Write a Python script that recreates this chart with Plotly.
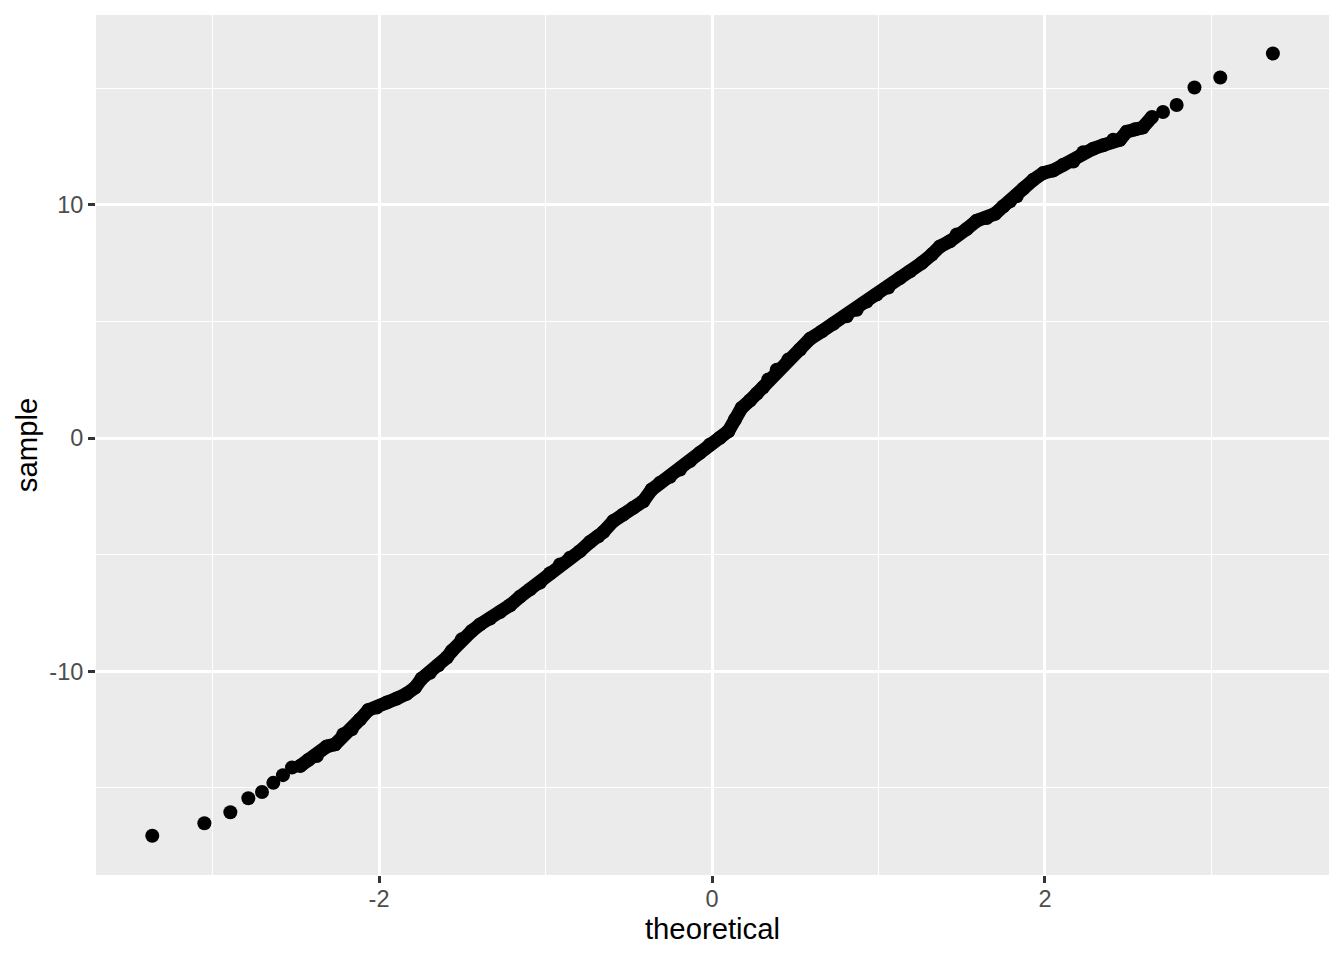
import plotly.graph_objects as go

# Theoretical quantiles (x) and sample quantiles (y)
theoretical = [
    -3.362, -3.049, -2.893, -2.785, -2.703, -2.635, -2.577, -2.523, -2.474, -2.425,
    -2.374, -2.314, -2.264, -2.214, -2.164, -2.114, -2.064, -2.014, -1.954, -1.894,
    -1.834, -1.784, -1.744, -1.694, -1.644, -1.593, -1.563, -1.503, -1.443, -1.393,
    -1.333, -1.273, -1.213, -1.153, -1.093, -1.033, -0.973, -0.913, -0.853, -0.793,
    -0.733, -0.683, -0.653, -0.593, -0.533, -0.473, -0.413, -0.362, -0.312, -0.252,
    -0.192, -0.132, -0.072, -0.012, 0.048, 0.098, 0.138, 0.178, 0.228, 0.270,
    0.306, 0.338, 0.389, 0.458, 0.529, 0.589, 0.659, 0.729, 0.809, 0.869,
    0.929, 0.989, 1.059, 1.129, 1.189, 1.259, 1.320, 1.369, 1.429, 1.470,
    1.530, 1.590, 1.650, 1.700, 1.750, 1.790, 1.830, 1.870, 1.930, 1.990,
    2.050, 2.110, 2.170, 2.230, 2.290, 2.350, 2.410, 2.450, 2.491, 2.541,
    2.587, 2.643, 2.709, 2.791, 2.898, 3.053, 3.369,
]
sample = [
    -17.05, -16.51, -16.04, -15.44, -15.17, -14.78, -14.45, -14.12, -14.06, -13.80,
    -13.63, -13.22, -13.13, -12.70, -12.48, -12.06, -11.66, -11.55, -11.34, -11.17,
    -10.96, -10.70, -10.31, -10.06, -9.74, -9.41, -9.13, -8.63, -8.27, -7.99,
    -7.74, -7.46, -7.17, -6.80, -6.49, -6.20, -5.80, -5.42, -5.13, -4.85,
    -4.46, -4.21, -4.03, -3.56, -3.28, -2.99, -2.71, -2.21, -1.92, -1.66,
    -1.35, -0.99, -0.63, -0.28, 0.01, 0.29, 0.79, 1.29, 1.61, 1.91,
    2.16, 2.51, 2.93, 3.36, 3.79, 4.25, 4.57, 4.90, 5.22, 5.50,
    5.85, 6.15, 6.45, 6.86, 7.14, 7.50, 7.86, 8.21, 8.43, 8.72,
    8.96, 9.31, 9.43, 9.61, 9.93, 10.14, 10.36, 10.69, 11.07, 11.36,
    11.47, 11.71, 11.85, 12.25, 12.40, 12.55, 12.78, 12.78, 13.13, 13.23,
    13.31, 13.76, 13.97, 14.27, 15.02, 15.45, 16.48,
]

x_ticks = [-2, 0, 2]
y_ticks = [-10, 0, 10]
x_minor = [-3, -1, 1, 3]
y_minor = [-15, -5, 5, 15]

FONT = "Liberation Sans, Arial, Helvetica, sans-serif"

# Where the sample is dense (hundreds of overlapping points), the dots merge
# into a continuous band; a thick stroke under the dots reproduces that band.
DENSE_START, DENSE_END = 8, 101

fig = go.Figure()
fig.add_trace(go.Scatter(
    x=theoretical[DENSE_START:DENSE_END + 1], y=sample[DENSE_START:DENSE_END + 1],
    mode="lines", line=dict(color="black", width=13.5),
    showlegend=False, hoverinfo="skip",
))
fig.add_trace(go.Scatter(
    x=theoretical, y=sample, mode="markers",
    marker=dict(color="black", size=14, line=dict(width=0)),
    showlegend=False, hoverinfo="x+y",
))

axis_common = dict(
    showgrid=True, gridcolor="white", gridwidth=2.5,
    zeroline=False, showline=False,
    ticks="outside", ticklen=7, tickwidth=2.5, tickcolor="#333333",
    tickfont=dict(family=FONT, size=23.5, color="#4D4D4D"),
)

fig.update_layout(
    width=1336, height=952,
    margin=dict(l=88, r=15, t=7, b=85),
    paper_bgcolor="white", plot_bgcolor="#EBEBEB",
    font=dict(family=FONT),
    xaxis=dict(
        range=[-3.70, 3.706], tickvals=x_ticks, ticktext=[str(v) for v in x_ticks],
        minor=dict(tickvals=x_minor, showgrid=True, gridcolor="white", gridwidth=1.2, ticks=""),
        title=dict(text="theoretical", font=dict(family=FONT, size=29.3, color="black"), standoff=2),
        ticklabelstandoff=-4,
        **axis_common,
    ),
    yaxis=dict(
        range=[-18.73, 18.13], tickvals=y_ticks, ticktext=[str(v) for v in y_ticks],
        minor=dict(tickvals=y_minor, showgrid=True, gridcolor="white", gridwidth=1.2, ticks=""),
        title=dict(text="sample", font=dict(family=FONT, size=29.3, color="black"), standoff=3),
        **axis_common,
    ),
)

fig.write_html("out.html")
